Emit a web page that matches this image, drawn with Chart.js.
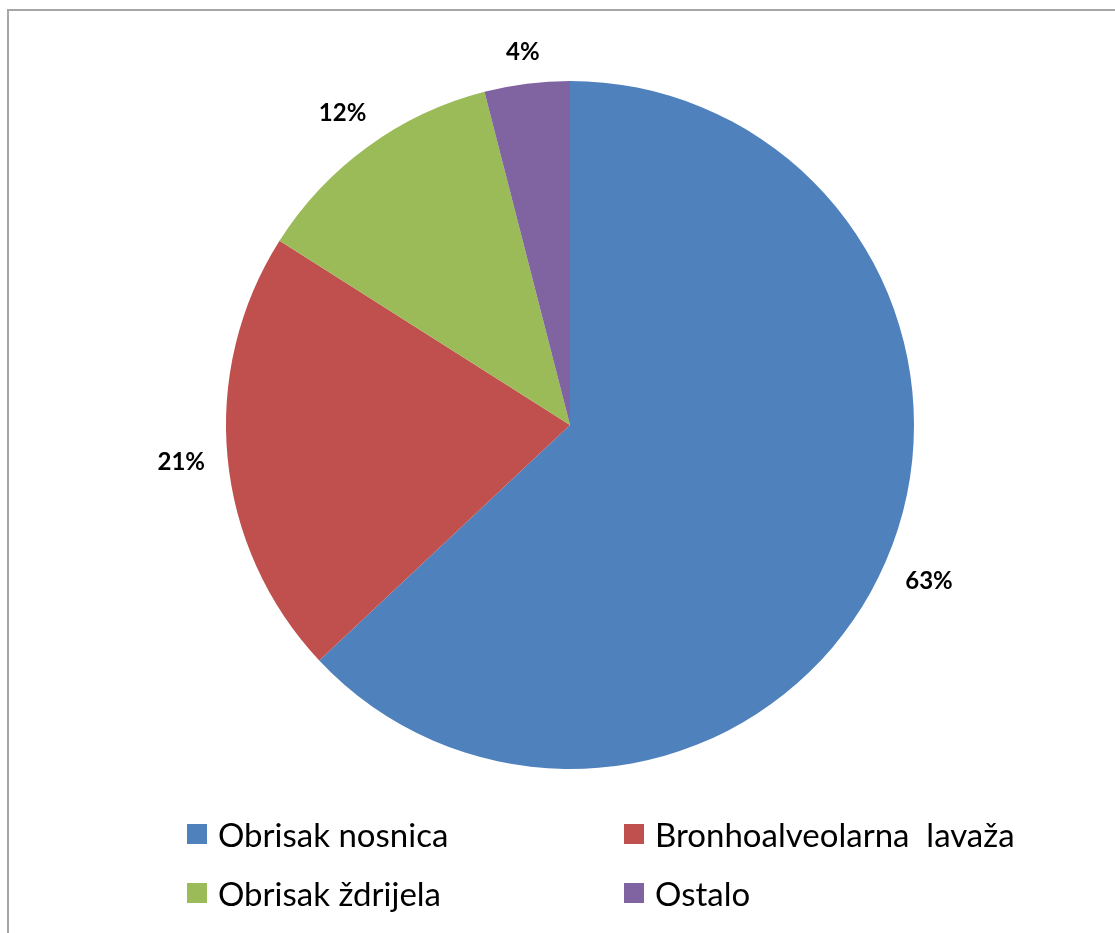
<!DOCTYPE html>
<html>
<head>
<meta charset="utf-8">
<script src="https://cdn.jsdelivr.net/npm/chart.js@4/dist/chart.umd.min.js"></script>
<style>
	html, body { margin: 0; padding: 0; background: #fff; }
	body { width: 1115px; height: 933px; position: relative; overflow: hidden; font-family: Lato, "Open Sans", sans-serif; }
	#frame {
		position: absolute; left: 7px; top: 9px; width: 1200px; height: 1000px;
		border-left: 2px solid #a6a6a6; border-top: 2px solid #a6a6a6;
	}
	#wrap { position: absolute; left: 0; top: 0; width: 1115px; height: 933px; }
	#legend {
		position: absolute; left: 187px; top: 804px;
		display: grid; grid-template-columns: 437px auto; grid-auto-rows: 59px;
	}
	.leg-item { display: flex; align-items: center; font-size: 33px; color: #000; white-space: pre; }
	.leg-box { width: 20px; height: 20px; margin-right: 11px; flex: none; }
</style>
</head>
<body>
<div id="frame"></div>
<div id="wrap"><canvas id="pieChart"></canvas></div>
<div id="legend"></div>
<script>
// data
const categories = ["Obrisak nosnica", "Bronhoalveolarna  lavaža", "Obrisak ždrijela", "Ostalo"];
const values = [63, 21, 12, 4];
const colors = ["#4F81BD", "#C0504D", "#9BBB59", "#8064A2"];

// percentage labels outside the slices
const outsideLabels = {
	id: "outsideLabels",
	afterDatasetsDraw(chart) {
		const ctx = chart.ctx;
		const meta = chart.getDatasetMeta(0);
		const total = values.reduce((a, b) => a + b, 0);
		ctx.save();
		ctx.font = "bold 24px Lato, 'Open Sans', sans-serif";
		ctx.fillStyle = "#000";
		ctx.textAlign = "center";
		ctx.textBaseline = "middle";
		meta.data.forEach((arc, i) => {
			const p = arc.getProps(["x", "y", "startAngle", "endAngle", "outerRadius"], true);
			const mid = (p.startAngle + p.endAngle) / 2;
			const text = Math.round(values[i] / total * 100) + "%";
			const hw = ctx.measureText(text).width / 2;
			const hh = 8.5;
			const cos = Math.cos(mid), sin = Math.sin(mid);
			const d = p.outerRadius + 22 + Math.abs(cos) * hw + Math.abs(sin) * hh;
			ctx.fillText(text, p.x + cos * d, p.y + sin * d + 1);
		});
		ctx.restore();
	},
};

// html legend in a 2x2 grid
const htmlLegend = {
	id: "htmlLegend",
	afterUpdate(chart) {
		const box = document.getElementById("legend");
		box.innerHTML = "";
		const items = chart.options.plugins.legend.labels.generateLabels(chart);
		items.forEach((it) => {
			const el = document.createElement("div");
			el.className = "leg-item";
			el.innerHTML = `<span class="leg-box" style="background:${it.fillStyle}"></span><span>${it.text}</span>`;
			box.appendChild(el);
		});
	},
};

new Chart(document.getElementById("pieChart"), {
	type: "pie",
	data: {
		labels: categories,
		datasets: [
			{
				data: values,
				backgroundColor: colors,
				borderWidth: 0,
			},
		],
	},
	options: {
		responsive: true,
		maintainAspectRatio: false,
		animation: false,
		layout: {
			padding: { left: 226, right: 201, top: 81, bottom: 164 },
		},
		plugins: {
			legend: { display: false },
			tooltip: { enabled: false },
		},
	},
	plugins: [outsideLabels, htmlLegend],
});
</script>
</body>
</html>
